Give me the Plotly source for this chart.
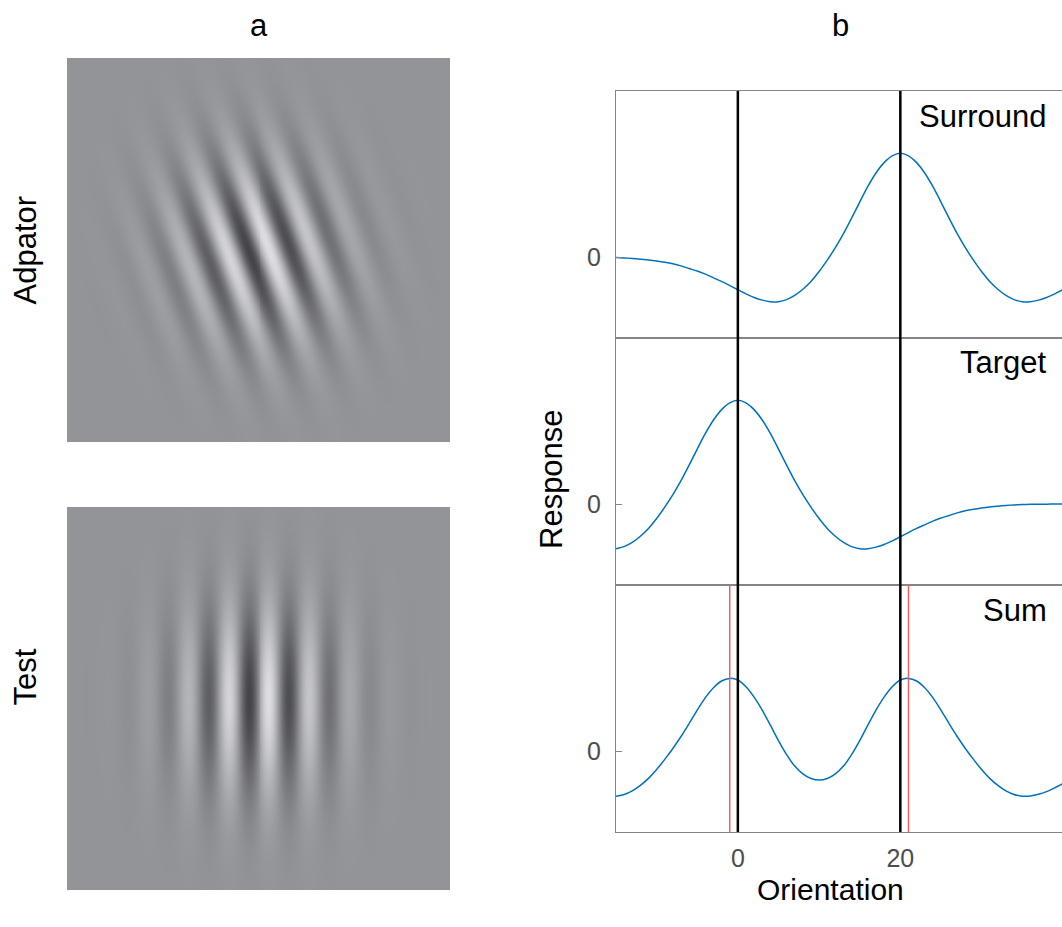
import numpy as np
import plotly.graph_objects as go

W, H = 1062, 927

# ---------------- data ----------------
orientation = list(range(-15, 41))  # x grid (deg)

surround = [-0.005, -0.008, -0.013, -0.02, -0.028, -0.038, -0.05, -0.065, -0.085, -0.11,
            -0.135, -0.165, -0.20, -0.235, -0.275, -0.315, -0.355, -0.39, -0.415, -0.43,
            -0.43, -0.41, -0.37, -0.31, -0.235, -0.14, -0.03, 0.09, 0.225, 0.375,
            0.53, 0.68, 0.81, 0.91, 0.975, 1.00, 0.975, 0.91, 0.81, 0.68,
            0.53, 0.375, 0.225, 0.09, -0.03, -0.14, -0.235, -0.31, -0.37, -0.41,
            -0.43, -0.43, -0.415, -0.39, -0.355, -0.315]

target = [-0.43, -0.41, -0.37, -0.31, -0.235, -0.14, -0.03, 0.09, 0.225, 0.375,
          0.53, 0.68, 0.81, 0.91, 0.975, 1.00, 0.975, 0.91, 0.81, 0.68,
          0.53, 0.375, 0.225, 0.09, -0.03, -0.14, -0.235, -0.31, -0.37, -0.41,
          -0.43, -0.43, -0.415, -0.39, -0.355, -0.315, -0.275, -0.235, -0.20, -0.165,
          -0.135, -0.11, -0.085, -0.065, -0.05, -0.038, -0.028, -0.02, -0.013, -0.008,
          -0.005, -0.003, -0.002, -0.001, 0.0, 0.0]

summed = [-0.435, -0.418, -0.383, -0.33, -0.263, -0.178, -0.08, 0.025, 0.14, 0.265,
          0.395, 0.515, 0.61, 0.675, 0.70, 0.685, 0.62, 0.52, 0.395, 0.25,
          0.10, -0.035, -0.145, -0.22, -0.265, -0.28, -0.265, -0.22, -0.145, -0.035,
          0.10, 0.25, 0.395, 0.52, 0.62, 0.685, 0.70, 0.675, 0.61, 0.515,
          0.395, 0.265, 0.14, 0.025, -0.08, -0.178, -0.263, -0.33, -0.383, -0.418,
          -0.435, -0.433, -0.417, -0.391, -0.355, -0.315]

stimulus_orientations = [0, 20]     # black lines
perceived_orientations = [-1, 21]   # red lines (Sum peaks)
panel_names = ["Surround", "Target", "Sum"]
x_tickvals = [0, 20]
x_ticktext = ["0", "20"]

# Gabor stimulus parameters (fractions of the image width)
gabor_size = 192
gabor_wavelength = 0.107
gabor_sigma_across = 0.145
gabor_sigma_along = 0.17
gabor_contrast = 0.82
adaptor_tilt_deg = 20
test_tilt_deg = 0


def gabor(tilt_deg):
    c = (np.arange(gabor_size) - (gabor_size - 1) / 2) / gabor_size
    X, Y = np.meshgrid(c, c)  # Y increases downward (rows from top)
    t = np.deg2rad(tilt_deg)
    u = X * np.cos(t) - Y * np.sin(t)
    v = X * np.sin(t) + Y * np.cos(t)
    env = np.exp(-u ** 2 / (2 * gabor_sigma_across ** 2) - v ** 2 / (2 * gabor_sigma_along ** 2))
    return gabor_contrast * np.sin(2 * np.pi * u / gabor_wavelength) * env


def px(x):
    return x / W


def py(y):
    return 1 - y / H


FONT = "Liberation Sans, Arial, Helvetica, sans-serif"
gray_scale = [[0, "rgb(48,48,53)"], [0.5, "rgb(147,148,152)"], [1, "rgb(240,240,243)"]]

fig = go.Figure()

# images
for i, tilt in enumerate([adaptor_tilt_deg, test_tilt_deg]):
    n = "" if i == 0 else "2"
    fig.add_trace(go.Heatmap(z=gabor(tilt), colorscale=gray_scale, zmin=-1, zmax=1,
                             zsmooth="best", showscale=False, hoverinfo="skip",
                             xaxis="x" + n, yaxis="y" + n))

# curves
BLUE = "#0072BD"
for k, series in enumerate([surround, target, summed]):
    n = str(k + 3)
    fig.add_trace(go.Scatter(x=orientation, y=series, mode="lines",
                             line=dict(color=BLUE, width=1.5, shape="spline", smoothing=0.6),
                             xaxis="x" + n, yaxis="y" + n, showlegend=False, hoverinfo="skip"))

img_x = [px(67), px(450)]
img_dom = [[py(442), py(58)], [py(890), py(507)]]
panel_top = [91, 338, 585]
panel_bot = [338, 585, 832]
plot_x = [px(616), 1.0]
yr = [-0.78, 1.6]
xr = [-15, 39.9]
LINE_GRAY = "#858585"
TICK_FONT = dict(size=25, color="#4d4d4d", family="Liberation Sans, Arial, sans-serif")

layout = dict(
    width=W, height=H, margin=dict(l=0, r=0, t=0, b=0),
    paper_bgcolor="white", plot_bgcolor="white", showlegend=False,
    font=dict(family=FONT, color="#000000"),
)
for i in range(2):
    n = "" if i == 0 else "2"
    layout["xaxis" + n] = dict(domain=img_x, anchor="y" + n, range=[-0.5, gabor_size - 0.5],
                               visible=False, fixedrange=True)
    layout["yaxis" + n] = dict(domain=img_dom[i], anchor="x" + n,
                               range=[gabor_size - 0.5, -0.5], visible=False, fixedrange=True)

for k in range(3):
    n = str(k + 3)
    dom = [py(panel_bot[k]), py(panel_top[k])]
    layout["xaxis" + n] = dict(domain=plot_x, anchor="y" + n, range=xr,
                               showline=True, mirror=True, linecolor=LINE_GRAY, linewidth=1,
                               ticks="inside", ticklen=6, tickcolor=LINE_GRAY,
                               tickvals=x_tickvals, ticktext=x_ticktext,
                               showticklabels=(k == 2), showgrid=False, zeroline=False,
                               tickfont=TICK_FONT, ticklabelstandoff=4)
    layout["yaxis" + n] = dict(domain=dom, anchor="x" + n, range=yr,
                               showline=True, linecolor=LINE_GRAY, linewidth=1,
                               ticks="inside", ticklen=6, tickcolor=LINE_GRAY,
                               tickvals=[0], ticktext=["0"], showgrid=False, zeroline=False,
                               tickfont=TICK_FONT, ticklabelstandoff=9)
    m = str(k + 6)
    layout["yaxis" + m] = dict(overlaying="y" + n, anchor="x" + n, side="right", range=yr,
                               showline=False, ticks="inside", ticklen=6, tickcolor=LINE_GRAY,
                               tickvals=[0], showticklabels=False, showgrid=False,
                               zeroline=False)

fig.update_layout(**layout)

# vertical reference lines
for xv in stimulus_orientations:
    fig.add_shape(type="line", xref="x5", yref="paper", x0=xv, x1=xv,
                  y0=py(832), y1=py(91), line=dict(color="black", width=2.5), layer="above")
for xv in perceived_orientations:
    fig.add_shape(type="line", xref="x5", yref="y5 domain", x0=xv, x1=xv,
                  y0=0, y1=1, line=dict(color="rgb(240,95,95)", width=1.5), layer="above")

# text
def ann(text, x, y, size=31, angle=0, xanchor="center", color="#000000"):
    fig.add_annotation(text=text, x=x, y=y, xref="paper", yref="paper", showarrow=False,
                       xanchor=xanchor, yanchor="middle", textangle=angle,
                       font=dict(size=size, family=FONT, color=color))

ann("a", px(258.5), py(26))
ann("b", px(840), py(26))
ann("Adpator", px(24.5), py(250), angle=-90)
ann("Test", px(24.5), py(677), angle=-90)
ann("Response", px(551), py(479), angle=-90)
ann("Orientation", px(830), py(889), size=30)
for name, yb in zip(panel_names, [127, 373, 621]):
    ann(name, px(1049), py(yb - 11), xanchor="right")

fig.write_html("out.html")
